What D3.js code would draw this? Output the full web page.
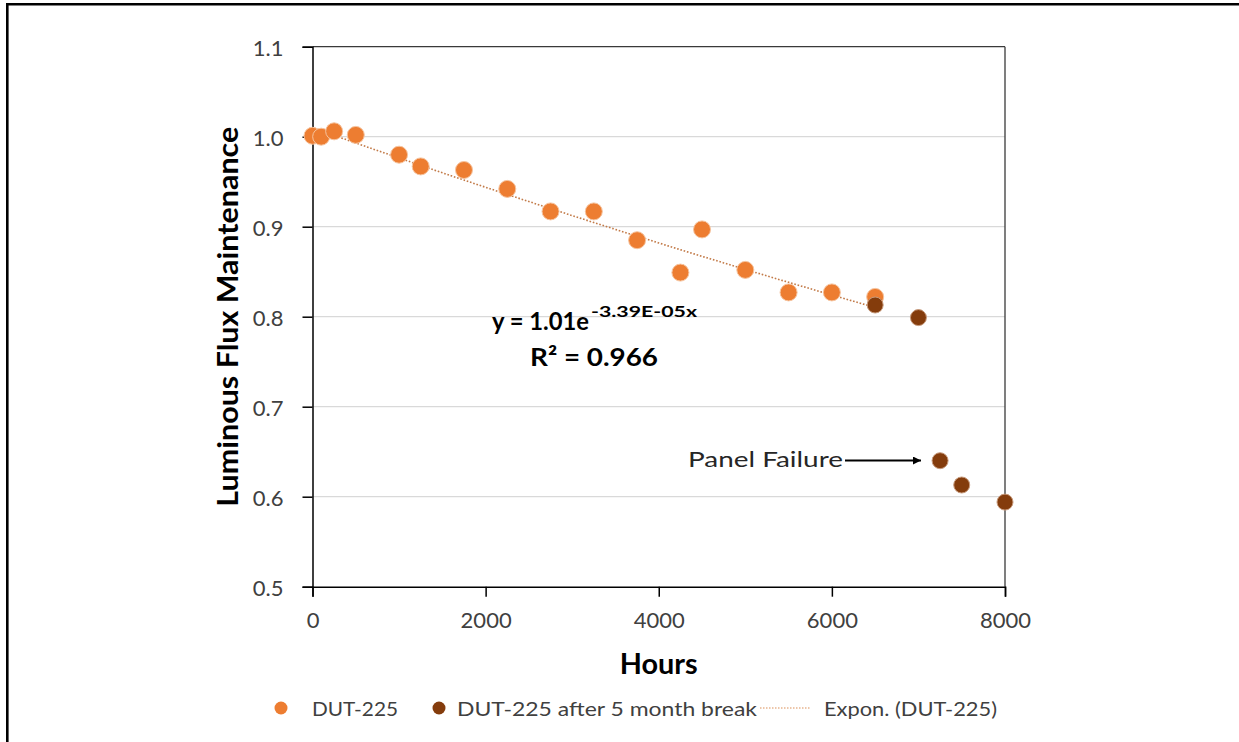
<!DOCTYPE html>
<html><head><meta charset="utf-8">
<script src="https://cdn.jsdelivr.net/npm/d3@7"></script>
<style>
html,body{margin:0;padding:0;background:#fff;}
svg{display:block;font-family:Lato,"Open Sans",sans-serif;}
</style></head>
<body>
<svg id="chart" width="1239" height="742"></svg>
<script>
// Data
const hours = [0, 100, 250, 500, 1000, 1250, 1750, 2250, 2750, 3250, 3750, 4250, 4500, 5000, 5500, 6000, 6500];
const flux = [1.001, 1.000, 1.006, 1.002, 0.980, 0.967, 0.963, 0.942, 0.917, 0.917, 0.885, 0.849, 0.897, 0.852, 0.827, 0.827, 0.822];
const breakHours = [6500, 7000, 7250, 7500, 8000];
const breakFlux = [0.813, 0.799, 0.640, 0.613, 0.594];
const xTicks = [0, 2000, 4000, 6000, 8000];
const yTicks = [0.5, 0.6, 0.7, 0.8, 0.9, 1.0, 1.1];
const fitA = 1.01, fitB = -3.39e-5;
const seriesNames = ["DUT-225", "DUT-225 after 5 month break", "Expon. (DUT-225)"];

const svg = d3.select("#chart");
const x = d3.scaleLinear().domain([0, 8000]).range([312.5, 1005]);
const y = d3.scaleLinear().domain([0.5, 1.1]).range([586.7, 46.7]);
const orange = "#ED7D31", brown = "#843C0C", txt = "#404040";

function label(sel, opts) {
  const t = sel.append("text").attr("x", opts.x).attr("y", opts.y)
    .style("font-size", opts.size + "px").attr("fill", opts.fill || "#000")
    .text(opts.text);
  if (opts.bold) t.style("font-weight", "bold");
  if (opts.anchor) t.attr("text-anchor", opts.anchor);
  if (opts.len) t.attr("textLength", opts.len).attr("lengthAdjust", "spacingAndGlyphs");
  if (opts.transform) t.attr("transform", opts.transform);
  return t;
}

// outer frame (left and top edges)
svg.append("path").attr("d", "M7.3,742 V4.3 H1239")
  .attr("fill", "none").attr("stroke", "#000").attr("stroke-width", 2.6);

// gridlines
svg.append("g").selectAll("line").data(yTicks.filter(d => d > 0.5 && d < 1.1)).join("line")
  .attr("x1", x(0)).attr("x2", x(8000)).attr("y1", d => y(d)).attr("y2", d => y(d))
  .attr("stroke", "#d9d9d9").attr("stroke-width", 1.2);

// plot frame top / right
svg.append("line").attr("x1", x(0)).attr("x2", x(8000)).attr("y1", y(1.1)).attr("y2", y(1.1))
  .attr("stroke", "#3a3a3a").attr("stroke-width", 1.3);
svg.append("line").attr("x1", x(8000)).attr("x2", x(8000)).attr("y1", y(1.1)).attr("y2", y(0.5))
  .attr("stroke", "#3a3a3a").attr("stroke-width", 1.3);

// axes
const xAxis = svg.append("g").attr("transform", `translate(0,${y(0.5)})`)
  .call(d3.axisBottom(x).tickValues(xTicks).tickFormat(d3.format("d")).tickSize(10).tickPadding(16));
const yAxis = svg.append("g").attr("transform", `translate(${x(0)},0)`)
  .call(d3.axisLeft(y).tickValues(yTicks).tickFormat(d3.format(".1f")).tickSize(10).tickPadding(19));
[xAxis, yAxis].forEach(a => {
  a.select(".domain").attr("stroke", "#000").attr("stroke-width", 1.5);
  a.selectAll(".tick line").attr("stroke", "#000").attr("stroke-width", 1.5);
  a.selectAll(".tick text").attr("fill", txt).style("font-size", "22px").style("font-family", "Lato");
});
yAxis.selectAll(".tick text").attr("dy", "0.42em");

// axis titles
label(svg, {x: x(4000), y: 674, size: 28, bold: true, anchor: "middle", text: "Hours", len: 78});
label(svg, {x: 0, y: 0, size: 28, bold: true, anchor: "middle", text: "Luminous Flux Maintenance",
  len: 380, transform: `translate(238,${(y(0.5) + y(1.1)) / 2}) rotate(-90)`});

// trendline
const trendX = d3.range(0, 6501, 50);
svg.append("path").datum(trendX)
  .attr("d", d3.line().x(d => x(d)).y(d => y(fitA * Math.exp(fitB * d))))
  .attr("fill", "none").attr("stroke", "#C27A48").attr("stroke-width", 1.6)
  .attr("stroke-dasharray", "1.6,1.8");

// points
svg.append("g").selectAll("circle").data(hours.map((h, i) => [h, flux[i]])).join("circle")
  .attr("cx", d => x(d[0])).attr("cy", d => y(d[1])).attr("r", 8.5)
  .attr("fill", orange).attr("stroke", "#f6c49f").attr("stroke-width", 1);
svg.append("g").selectAll("circle").data(breakHours.map((h, i) => [h, breakFlux[i]])).join("circle")
  .attr("cx", d => x(d[0])).attr("cy", d => y(d[1])).attr("r", 8)
  .attr("fill", brown).attr("stroke", "#c79a7c").attr("stroke-width", 1);

// equation
label(svg, {x: 492, y: 330, size: 25, bold: true, text: "y = 1.01e", len: 97});
label(svg, {x: 591, y: 317, size: 15, bold: true, text: "-3.39E-05x", len: 106});
label(svg, {x: 530, y: 366, size: 25, bold: true, text: "R² = 0.966", len: 128});

// annotation
svg.append("defs").append("marker").attr("id", "arr").attr("viewBox", "0 0 10 10")
  .attr("refX", 10).attr("refY", 5).attr("markerWidth", 9).attr("markerHeight", 8)
  .attr("markerUnits", "userSpaceOnUse").attr("orient", "auto")
  .append("path").attr("d", "M0,0 L10,5 L0,10 z").attr("fill", "#000");
label(svg, {x: 688, y: 467, size: 21, fill: "#262626", text: "Panel Failure", len: 155});
svg.append("line").attr("x1", 845).attr("x2", 921).attr("y1", 460.5).attr("y2", 460.5)
  .attr("stroke", "#000").attr("stroke-width", 2.2).attr("marker-end", "url(#arr)");

// legend
const lg = svg.append("g");
lg.append("circle").attr("cx", 281).attr("cy", 708).attr("r", 6.5).attr("fill", orange);
label(lg, {x: 312, y: 715.5, size: 20, fill: txt, text: seriesNames[0], len: 86});
lg.append("circle").attr("cx", 439).attr("cy", 708).attr("r", 6.5).attr("fill", brown);
label(lg, {x: 457, y: 715.5, size: 20, fill: txt, text: seriesNames[1], len: 300});
lg.append("line").attr("x1", 760).attr("x2", 811).attr("y1", 708).attr("y2", 708)
  .attr("stroke", "#E8B48E").attr("stroke-width", 1.5).attr("stroke-dasharray", "1.5,1.5");
label(lg, {x: 824, y: 715.5, size: 20, fill: txt, text: seriesNames[2], len: 173});
</script>
</body></html>
